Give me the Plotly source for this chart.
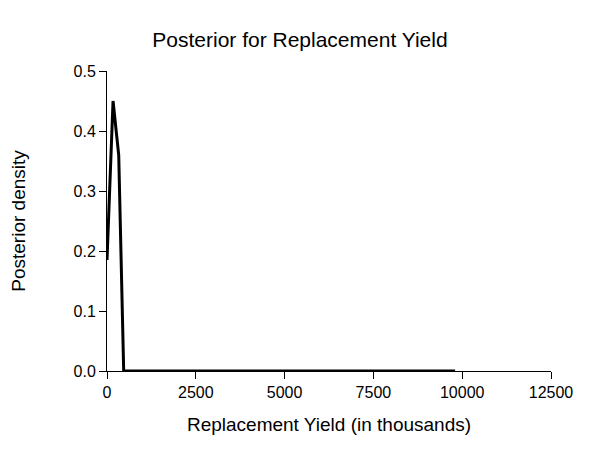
import plotly.graph_objects as go

x_vals = [0, 170, 330, 470, 9800]
y_vals = [0.185, 0.45, 0.36, 0.0, 0.0]
x_ticks = [0, 2500, 5000, 7500, 10000, 12500]
x_tick_labels = ["0", "2500", "5000", "7500", "10000", "12500"]

fig = go.Figure(go.Scatter(x=x_vals, y=y_vals, mode="lines",
                           line=dict(color="black", width=3)))
fig.update_layout(
    width=591, height=465, plot_bgcolor="white", paper_bgcolor="white",
    margin=dict(l=99, r=48, t=63, b=102, autoexpand=False),
    title=dict(text="Posterior for Replacement Yield", x=0.494, xanchor="center",
               y=1 - 32 / 465, yanchor="middle",
               font=dict(family="Liberation Sans", size=21, color="black")),
    font=dict(family="Liberation Sans", size=16, color="black"),
    showlegend=False,
)
fig.update_xaxes(range=[0, 12500], tickvals=x_ticks, ticktext=x_tick_labels,
                 showgrid=False, zeroline=False, showline=True, linecolor="black",
                 ticks="outside", ticklen=7, tickcolor="black", automargin=False,
                 title=dict(text="Replacement Yield (in thousands)", standoff=17, font=dict(size=19)))
fig.update_yaxes(range=[0, 0.5], tickvals=[0, 0.1, 0.2, 0.3, 0.4, 0.5], tickformat=".1f",
                 showgrid=False, zeroline=False, showline=True, linecolor="black",
                 ticks="outside", ticklen=7, tickcolor="black", automargin=False,
                 title=dict(text="Posterior density", standoff=45, font=dict(size=19)))
fig.write_html("out.html")
